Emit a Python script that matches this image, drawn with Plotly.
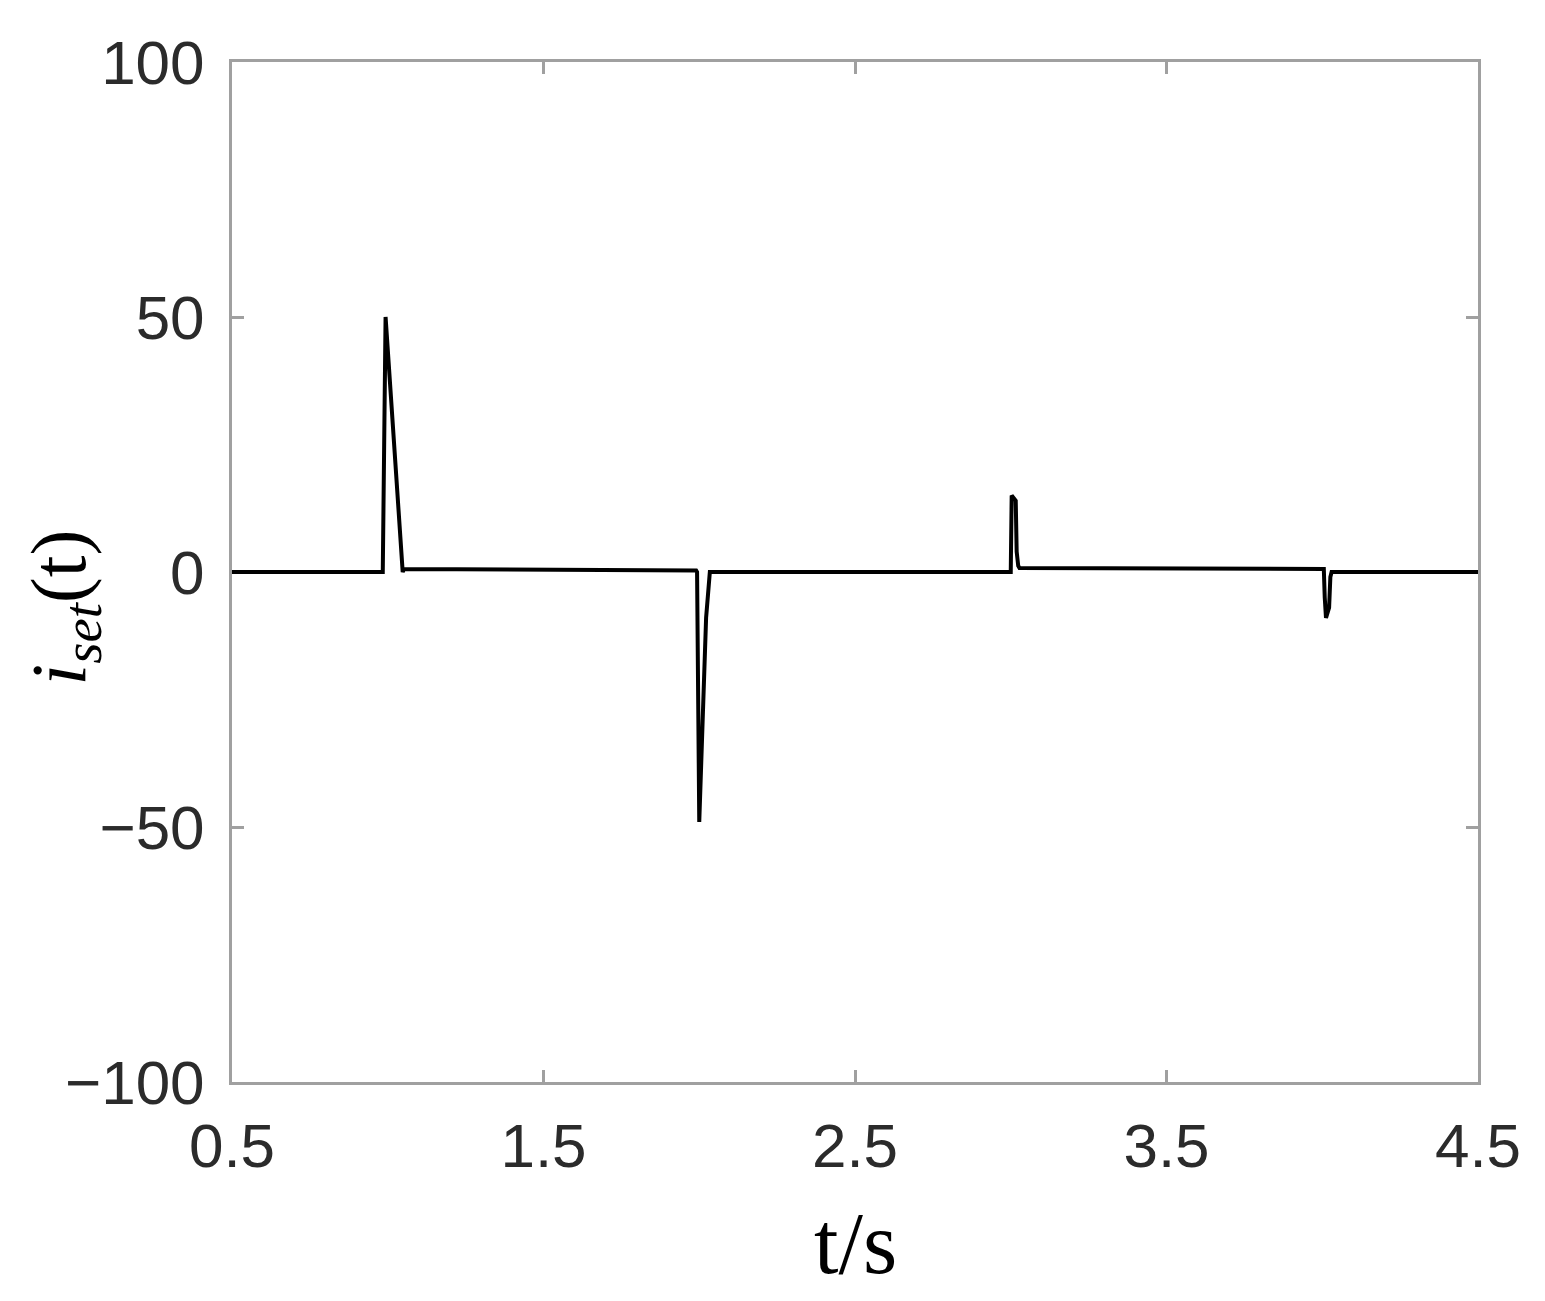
import plotly.graph_objects as go

# Hand-read samples of i_set(t)
t_s = [0.50, 0.98, 0.984, 0.993, 1.045, 1.048, 1.052, 1.50, 1.99, 1.993, 2.000,
       2.022, 2.030, 2.034, 2.50, 3.000, 3.003, 3.016, 3.019, 3.024, 3.028,
       3.50, 4.005, 4.008, 4.012, 4.022, 4.026, 4.030, 4.50]
i_set = [0.0, 0.0, 0.0, 50.0, 2.0, 0.0, 0.6, 0.4, 0.3, 0.0, -49.0,
         -9.0, -2.0, 0.0, 0.0, 0.0, 15.0, 14.0, 4.0, 1.2, 0.8,
         0.7, 0.6, -5.0, -9.0, -7.0, -1.0, 0.0, 0.0]

x_ticks = [0.5, 1.5, 2.5, 3.5, 4.5]
x_labels = ["0.5", "1.5", "2.5", "3.5", "4.5"]
y_ticks = [-100, -50, 0, 50, 100]
y_labels = ["\u2212100", "\u221250", "0", "50", "100"]

fig = go.Figure()
fig.add_trace(go.Scatter(x=t_s, y=i_set, mode="lines",
                         line=dict(color="#000000", width=4), showlegend=False))

axis_common = dict(
    showgrid=False, zeroline=False, showline=True, linecolor="#a0a0a0", linewidth=3,
    mirror="ticks", ticks="inside", ticklen=12, tickwidth=3, tickcolor="#a0a0a0",
    layer="below traces",
    tickfont=dict(family="Liberation Sans, Arial, sans-serif", size=62, color="#2b2b2b"),
)

fig.update_xaxes(range=[0.5, 4.5], tickvals=x_ticks, ticktext=x_labels,
                 ticklabelstandoff=8, **axis_common)
fig.update_yaxes(range=[-100, 100], tickvals=y_ticks, ticktext=y_labels,
                 ticklabelstandoff=12, **axis_common)

fig.add_annotation(text="t/s", xref="paper", yref="paper", x=0.5, y=-0.158,
                   xanchor="center", yanchor="middle", showarrow=False,
                   font=dict(family="Liberation Serif, Times New Roman, serif", size=88, color="#000000"))
fig.add_annotation(text="<i>i</i><sub><i>set</i></sub>(t)", xref="paper", yref="paper",
                   x=-0.135, y=0.465, xanchor="center", yanchor="middle", textangle=-90,
                   showarrow=False,
                   font=dict(family="Liberation Serif, Times New Roman, serif", size=78, color="#000000"))

fig.update_layout(width=1537, height=1293, margin=dict(l=224, r=67, t=54, b=219),
                  paper_bgcolor="white", plot_bgcolor="white")
fig.write_html("out.html")
